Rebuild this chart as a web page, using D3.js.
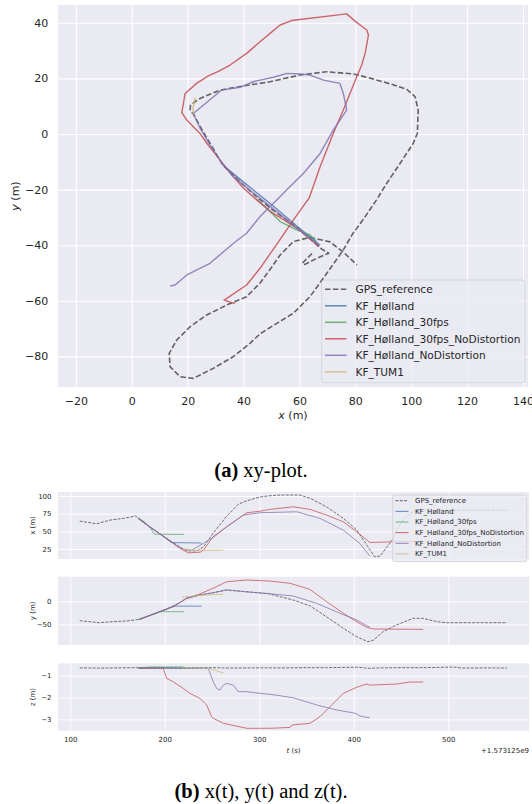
<!DOCTYPE html>
<html>
<head>
<meta charset="UTF-8">
<title>Trajectories</title>
<style>
  body { margin: 0; background: #ffffff; }
  svg { display: block; font-family: "DejaVu Sans", sans-serif; }
  .caption { font-family: "Liberation Serif", "Times New Roman", serif; }
</style>
</head>
<body>
<div id="chart"></div>
<script src="https://cdn.jsdelivr.net/npm/d3@7"></script>
<script>
// ---- data ----
const seriesNames = ["GPS_reference", "KF_Hølland", "KF_Hølland_30fps",
  "KF_Hølland_30fps_NoDistortion", "KF_Hølland_NoDistortion", "KF_TUM1"];
const seriesColors = ["#4a4a4a", "#4C72B0", "#55A868", "#C44E52", "#8172B2", "#CCB974"];

const xyTicksX = [-20, 0, 20, 40, 60, 80, 100, 120, 140];
const xyTicksY = [-80, -60, -40, -20, 0, 20, 40];
const tTicks = [100, 200, 300, 400, 500];
const xtTicks = [25, 50, 75, 100];
const ytTicks = [-50, 0];
const ztTicks = [-3, -2, -1];

// xy paths [x, y] in metres
const gpsXY = [[64.5,-43],[62.5,-45],[61,-46.5],[62,-46.9],[66,-44.8],[69,-43.5],[70.5,-42.9],[68,-41.4],
  [63,-37],[57,-32],[50,-27],[44,-22],[38,-16.5],[32.6,-11.2],[28,-3.3],[24.5,2.6],[22.3,6.8],[20.9,8.6],
  [21,10.4],[24.4,12.8],[31.6,15.8],[40,17.3],[49.5,18.8],[60.2,21.2],[69.8,22.4],[79.3,21.6],[85.3,20.1],
  [93.6,17.7],[98.4,16.1],[101.4,13.4],[102.5,8.6],[102.2,0.2],[100.7,-3.4],[96,-10.6],[91.2,-17.8],
  [87.6,-23.7],[83,-30.5],[79,-36],[75.7,-41.7],[69.8,-50.1],[63.8,-58.5],[57.8,-64.5],[51.9,-68.1],
  [46,-71.8],[42.3,-75.3],[36.3,-80.1],[29.2,-84.3],[22,-87.9],[17.3,-87.3],[13.7,-83.7],[13.4,-78.9],
  [16.1,-74.1],[20.9,-69.3],[26.8,-65.1],[34,-61.5],[41.1,-58.5],[46,-53.5],[50,-48],[53.1,-43.5],
  [57.8,-38.7],[63.8,-37.2],[70.9,-38.8],[75.6,-42.4],[80.6,-47.1]];
const hollandXY = [[67.4,-40],[58,-32.2],[49.5,-25],[40,-17.3],[32.6,-11.2]];
const holland30XY = [[66,-38.5],[63.8,-36.3],[59,-34.5],[56.7,-33.3],[53.1,-31.5],[49.5,-27.9],[44.7,-23.4]];
const holland30NdXY = [[67,-40.5],[60,-34.5],[53,-30],[49.5,-27.8],[44.7,-23.7],[40,-19.5],[36.4,-15.4],
  [31.6,-9.4],[27,-3.5],[24.4,0.2],[19.7,5],[17.9,7.7],[19.1,14.6],[23.3,18.3],[27.4,20.9],[31,22.5],
  [35.2,24.8],[41.1,29],[45.9,33.2],[49.5,36.2],[53.1,39.2],[57.2,40.8],[76.9,43.2],[80,40.5],[84.1,37.4],
  [84.7,35.6],[83.5,29],[82.3,24.8],[80.5,20.6],[75.7,8.6],[72.1,0.2],[67.4,-11.8],[63.5,-23],[57.8,-31],
  [52,-39.5],[45.9,-48.3],[41.1,-54.3],[34,-59.1],[33,-59.7],[35.2,-60.5],[37,-60.9]];
const hollandNdXY = [[67,-40],[58,-33],[49.5,-26],[42,-20],[36,-15],[32,-10],[28,-4],[24.5,2],[22,7.4],
  [27,11.5],[32.2,15.8],[38.7,16.8],[43.5,18.8],[45.9,19.4],[50.7,20.4],[55.5,21.8],[60.2,21.6],[63.8,21.2],
  [68.6,19.4],[74.5,18.2],[75.7,14.6],[76.7,9.8],[76.9,8.6],[72.1,1.4],[67.4,-7],[61.4,-14.2],[56,-19.5],
  [51.9,-23.7],[45.9,-29.7],[41.1,-35.7],[36.4,-39.3],[28,-46.5],[19.7,-50.7],[15.5,-54.3],[13.7,-54.7]];
const tum1XY = [[22,7.2],[21.9,9],[22.3,11.5],[22.6,13]];

// time series [t, value], t in s (offset +1.573125e9)
const gpsXt = [[110,64.5],[128,60.7],[142,65.9],[156,68.3],[169,71.6],[174,67],[184,56.4],[202,39.9],[216,28],
  [223,22.3],[234,22.3],[241,28],[251,47],[265,70.6],[278,88.6],[287,93.3],[300,98.5],[311,100.4],[322,101.4],
  [343,101.4],[354,96.7],[371,84.8],[389,68.3],[403,52],[415,28],[422,14],[428,15],[435,28],[442,40],
  [447,55],[453,68],[463,78],[473,80],[498,80],[562,80]];
const gpsYt = [[110,-42.2],[131,-46.5],[145,-44.3],[160,-42.8],[174,-39],[184,-31.5],[202,-17.4],[216,-2.6],
  [223,6.5],[237,13.7],[251,18.7],[265,24.6],[273,23],[287,20.9],[300,18],[311,16],[322,10],[336,2.8],
  [354,-10.2],[371,-33.5],[389,-58.7],[403,-77],[415,-87.8],[421,-84.1],[431,-66.1],[445,-51.5],[463,-37],
  [473,-37],[488,-44.3],[498,-46.5],[562,-46.5]];
const gpsZt = [[110,-0.64],[130,-0.65],[150,-0.64],[170,-0.63],[190,-0.62],[210,-0.63],[230,-0.64],
  [250,-0.63],[270,-0.65],[290,-0.64],[310,-0.64],[330,-0.64],[350,-0.63],[370,-0.63],[390,-0.62],
  [405,-0.61],[415,-0.66],[430,-0.64],[450,-0.63],[470,-0.63],[490,-0.62],[505,-0.6],[515,-0.65],
  [540,-0.64],[562,-0.65]];

const hollandXt = [[172,68],[184,56.4],[195,46],[207,34],[239,33.5]];
const hollandYt = [[172,-39.5],[191,-25.5],[209,-10.5],[239,-10.5]];
const hollandZt = [[172,-0.65],[200,-0.65],[239,-0.66]];

const holland30Xt = [[172,69],[178,64],[184,56],[189,46],[220,45.6]];
const holland30Yt = [[172,-39.5],[185,-30],[195,-22.6],[220,-22.6]];
const holland30Zt = [[172,-0.64],[185,-0.6],[220,-0.6]];

const holland30NdXt = [[172,68],[184,56.4],[202,39.9],[216,25.7],[225,19.5],[237.6,20.5],[241,23.3],[251,42.2],
  [265.5,56.4],[286.7,76.3],[300.8,78.5],[311,81],[336,84.8],[353.6,81.1],[371.3,73],[388.9,63.5],[403,49.3],
  [417,34.2],[438,35],[473,36]];
const holland30NdYt = [[173.8,-39.1],[191.4,-24.7],[209,-11.7],[223,6.5],[237,15.9],[251,28.2],[265.5,42.6],
  [286.7,46.3],[300.8,45],[311,44.1],[332.5,39.1],[353.6,26],[371.3,-0.9],[388.9,-26],[403,-44.3],
  [413.6,-56.5],[420.6,-60.2],[473.5,-60.9]];
const holland30NdZt = [[172,-0.66],[198.4,-0.66],[202,-1.12],[209,-1.28],[219.6,-1.58],[226.7,-1.81],
  [237.2,-2.04],[244.3,-2.34],[249.6,-2.88],[251.3,-2.95],[261.9,-3.18],[286.7,-3.41],[311.3,-3.41],
  [332.5,-3.37],[334.3,-3.26],[353.6,-3.18],[364.2,-2.88],[374.8,-2.42],[388.9,-1.81],[403,-1.53],
  [413.6,-1.38],[417,-1.43],[445.3,-1.38],[459.5,-1.29],[473.5,-1.29]];

const hollandNdXt = [[172,68],[184,56.4],[202,39.9],[216,27],[219.6,24.7],[228.5,23.3],[237.2,30],[251.3,41.3],
  [265.5,56.4],[283,73],[300.8,76.3],[339.6,77.7],[364.2,68.3],[388.9,51.7],[406.5,32.8],[417,14.8]];
const hollandNdYt = [[173.8,-39.1],[191.4,-25],[209,-11.7],[223.1,6.5],[237.2,13.7],[251.3,18.7],[265.5,24.6],
  [272.5,23.7],[286.7,20.2],[300.8,18.7],[311.3,16.5],[336,11.5],[360.7,-4.3],[385.4,-26],[403,-40.7],
  [417,-56.5]];
const hollandNdZt = [[172,-0.65],[246,-0.66],[251.3,-1.28],[254.9,-1.58],[258.4,-1.66],[261.9,-1.43],
  [265.5,-1.35],[272.5,-1.43],[277.8,-1.73],[286.7,-1.73],[300.8,-1.81],[311.3,-1.85],[336,-2.01],
  [360.7,-2.34],[381.9,-2.57],[399.5,-2.7],[403,-2.75],[406.5,-2.85],[417,-2.93]];

const tum1Xt = [[218,24.5],[226,23],[262,23.3]];
const tum1Yt = [[218,9],[235,12.5],[250,14.5],[262,15]];
const tum1Zt = [[218,-0.64],[240,-0.66],[250,-0.7],[262,-0.88]];

const xyPaths = [gpsXY, hollandXY, holland30XY, holland30NdXY, hollandNdXY, tum1XY];
const xtPaths = [gpsXt, hollandXt, holland30Xt, holland30NdXt, hollandNdXt, tum1Xt];
const ytPaths = [gpsYt, hollandYt, holland30Yt, holland30NdYt, hollandNdYt, tum1Yt];
const ztPaths = [gpsZt, hollandZt, holland30Zt, holland30NdZt, hollandNdZt, tum1Zt];

// ---- drawing ----
const width = 532, height = 804;
const svg = d3.select("#chart").append("svg")
  .attr("width", width).attr("height", height);

const bg = "#EAEAF2", tickColor = "#262626";
const fmt = d3.format("d");

function gridAxes(g, x, y, xt, yt, box, fs, pad, showXLabels) {
  g.append("rect")
    .attr("x", box.left).attr("y", box.top)
    .attr("width", box.right - box.left).attr("height", box.bottom - box.top)
    .attr("fill", bg);
  let ax = g.append("g")
    .attr("transform", "translate(0," + box.bottom + ")")
    .call(d3.axisBottom(x).tickValues(xt).tickSize(-(box.bottom - box.top)).tickPadding(pad)
      .tickFormat(showXLabels ? fmt : ""));
  let ay = g.append("g")
    .attr("transform", "translate(" + box.left + ",0)")
    .call(d3.axisLeft(y).tickValues(yt).tickSize(-(box.right - box.left)).tickPadding(pad).tickFormat(fmt));
  [ax, ay].forEach(a => {
    a.select(".domain").remove();
    a.selectAll("line").attr("stroke", "#ffffff").attr("stroke-width", fs > 9 ? 1.1 : 0.9);
    a.selectAll("text").attr("fill", tickColor).attr("font-size", fs).attr("font-family", "DejaVu Sans");
  });
}

function legend(g, o) {
  g.append("rect")
    .attr("x", o.x).attr("y", o.y).attr("width", o.w).attr("height", o.h)
    .attr("rx", o.r).attr("fill", bg).attr("fill-opacity", 0.8)
    .attr("stroke", "#cfcfd6").attr("stroke-width", 0.8);
  seriesNames.forEach((name, i) => {
    let yy = o.row0 + i * o.rowH;
    g.append("line")
      .attr("x1", o.lx1).attr("x2", o.lx2).attr("y1", yy).attr("y2", yy)
      .attr("stroke", seriesColors[i]).attr("stroke-width", o.lw)
      .attr("stroke-opacity", 0.85)
      .attr("stroke-dasharray", i === 0 ? o.dash : null);
    g.append("text")
      .attr("x", o.tx).attr("y", yy).attr("dy", "0.35em")
      .attr("font-size", o.fs).attr("fill", tickColor)
      .text(name);
  });
}

// ---- (a) xy-plot ----
const boxA = {left: 58, right: 528, top: 5, bottom: 387};
const xA = d3.scaleLinear().domain([-26.4, 141.8]).range([boxA.left, boxA.right]);
const yA = d3.scaleLinear().domain([-91, 46.4]).range([boxA.bottom, boxA.top]);
const gA = svg.append("g");
gridAxes(gA, xA, yA, xyTicksX, xyTicksY, boxA, 11, 9.8, true);

const lineA = d3.line().x(d => xA(d[0])).y(d => yA(d[1]));
xyPaths.forEach((p, i) => {
  gA.append("path")
    .datum(p)
    .attr("d", lineA)
    .attr("fill", "none")
    .attr("stroke", seriesColors[i])
    .attr("stroke-width", i === 0 ? 1.6 : 1.4)
    .attr("stroke-opacity", 0.85)
    .attr("stroke-dasharray", i === 0 ? "5.5,2.4" : null)
    .attr("stroke-linejoin", "round");
});

gA.append("text")
  .attr("x", (boxA.left + boxA.right) / 2).attr("y", 419)
  .attr("text-anchor", "middle").attr("font-size", 11).attr("fill", tickColor)
  .html('<tspan font-style="italic">x</tspan> (m)');
gA.append("text")
  .attr("transform", "translate(19," + (boxA.top + boxA.bottom) / 2 + ") rotate(-90)")
  .attr("text-anchor", "middle").attr("font-size", 11).attr("fill", tickColor)
  .html('<tspan font-style="italic">y</tspan> (m)');

legend(gA, {x: 321.7, y: 280, w: 203.3, h: 102.7, r: 3, row0: 289.3, rowH: 16.5,
  lx1: 325, lx2: 346.5, tx: 355.5, fs: 10.6, lw: 1.5, dash: "5.5,2.4"});

svg.append("text").attr("class", "caption")
  .attr("x", 261).attr("y", 477).attr("text-anchor", "middle").attr("font-size", 20.5)
  .html('<tspan font-weight="bold">(a)</tspan> xy-plot.');

// ---- (b) x(t), y(t), z(t) ----
const tScale = d3.scaleLinear().domain([87, 585.4]).range([58, 529]);
const panels = [
  {box: {left: 58, right: 529, top: 492, bottom: 559}, dom: [10.8, 105.7], ticks: xtTicks, paths: xtPaths, label: "x (m)"},
  {box: {left: 58, right: 529, top: 576.7, bottom: 645}, dom: [-95, 53.5], ticks: ytTicks, paths: ytPaths, label: "y (m)"},
  {box: {left: 58, right: 529, top: 663.3, bottom: 730.7}, dom: [-3.52, -0.43], ticks: ztTicks, paths: ztPaths, label: "z (m)"}
];

panels.forEach((pn, k) => {
  const g = svg.append("g");
  const ys = d3.scaleLinear().domain(pn.dom).range([pn.box.bottom, pn.box.top]);
  gridAxes(g, tScale, ys, tTicks, pn.ticks, pn.box, 7, 6.5, k === 2);
  const ln = d3.line().x(d => tScale(d[0])).y(d => ys(d[1]));
  pn.paths.forEach((p, i) => {
    g.append("path")
      .datum(p)
      .attr("d", ln)
      .attr("fill", "none")
      .attr("stroke", seriesColors[i])
      .attr("stroke-width", 0.9)
      .attr("stroke-opacity", 0.85)
      .attr("stroke-dasharray", i === 0 ? "3,1.3" : null)
      .attr("stroke-linejoin", "round");
  });
  g.append("text")
    .attr("transform", "translate(34.5," + (pn.box.top + pn.box.bottom) / 2 + ") rotate(-90)")
    .attr("text-anchor", "middle").attr("font-size", 7).attr("fill", tickColor)
    .text(pn.label);
});

legend(svg.append("g"), {x: 392.7, y: 495, w: 134, h: 66.7, r: 2, row0: 500.7, rowH: 10.65,
  lx1: 395.5, lx2: 408.5, tx: 415, fs: 7, lw: 1, dash: "3,1.3"});

svg.append("text")
  .attr("x", 293.5).attr("y", 752.5).attr("text-anchor", "middle").attr("font-size", 7).attr("fill", tickColor)
  .html('<tspan font-style="italic">t</tspan> (s)');
svg.append("text")
  .attr("x", 529).attr("y", 752.5).attr("text-anchor", "end").attr("font-size", 7).attr("fill", tickColor)
  .text("+1.573125e9");

svg.append("text").attr("class", "caption")
  .attr("x", 261).attr("y", 798).attr("text-anchor", "middle").attr("font-size", 20.5)
  .html('<tspan font-weight="bold">(b)</tspan> x(t), y(t) and z(t).');
</script>
</body>
</html>
